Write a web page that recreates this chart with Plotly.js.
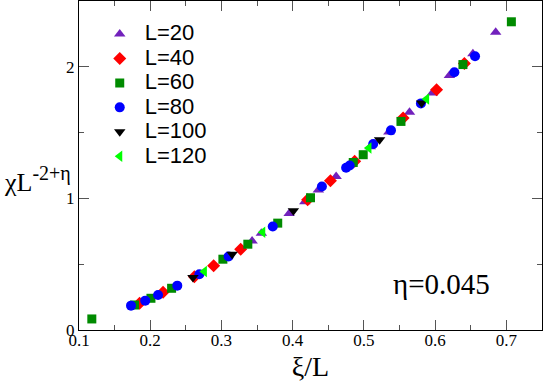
<!DOCTYPE html>
<html>
<head>
<meta charset="utf-8">
<script src="https://cdn.plot.ly/plotly-3.0.1.min.js"></script>
<style>html,body{margin:0;padding:0;background:#fff;}#chart{width:545px;height:382px;}</style>
</head>
<body>
<div id="chart"></div>
<script>
// ---- data ----
const seriesNames = ['L=20', 'L=40', 'L=60', 'L=80', 'L=100', 'L=120'];

const x20 = [0.343, 0.356, 0.395, 0.417, 0.436, 0.461, 0.509, 0.535, 0.564, 0.596, 0.620, 0.653, 0.685];
const y20 = [0.677, 0.735, 0.886, 0.975, 1.063, 1.167, 1.392, 1.505, 1.654, 1.801, 1.933, 2.100, 2.263];

const x40 = [0.185, 0.218, 0.262, 0.289, 0.327, 0.421, 0.453, 0.487, 0.555, 0.602, 0.641];
const y40 = [0.203, 0.287, 0.405, 0.489, 0.614, 0.990, 1.134, 1.283, 1.611, 1.826, 2.025];

const x60 = [0.118, 0.178, 0.201, 0.230, 0.302, 0.337, 0.379, 0.425, 0.485, 0.499, 0.552, 0.639, 0.707];
const y60 = [0.084, 0.190, 0.241, 0.317, 0.538, 0.652, 0.812, 1.005, 1.273, 1.332, 1.585, 2.017, 2.342];

const x80 = [0.173, 0.193, 0.211, 0.238, 0.269, 0.310, 0.372, 0.441, 0.475, 0.480, 0.513, 0.538, 0.580, 0.627, 0.656];
const y80 = [0.185, 0.223, 0.266, 0.337, 0.424, 0.558, 0.786, 1.091, 1.233, 1.250, 1.413, 1.517, 1.722, 1.958, 2.080];

const x100 = [0.260, 0.315, 0.401, 0.522, 0.581];
const y100 = [0.398, 0.576, 0.906, 1.446, 1.725];

const x120 = [0.276, 0.358, 0.507, 0.588];
const y120 = [0.444, 0.743, 1.383, 1.755];

const xTickVals = [0.1, 0.2, 0.3, 0.4, 0.5, 0.6, 0.7];
const xTickText = ['0.1', '0.2', '0.3', '0.4', '0.5', '0.6', '0.7'];
const yTickVals = [0, 1, 2];
const yTickText = ['0', '1', '2'];

// ---- styles ----
const xs = [x20, x40, x60, x80, x100, x120];
const ys = [y20, y40, y60, y80, y100, y120];
const colors = ['#7221bc', '#ff0000', '#008b00', '#0000ff', '#000000', '#00ff00'];
const symbols = ['triangle-up', 'diamond', 'square', 'circle', 'triangle-down', 'triangle-left'];
const sizes = [10, 10, 9, 10, 10, 10];

const traces = seriesNames.map((n, i) => ({
  type: 'scatter',
  mode: 'markers',
  name: '<span style="font-size:22px">' + n + '</span>',
  x: xs[i],
  y: ys[i],
  marker: {color: colors[i], symbol: symbols[i], size: sizes[i], line: {width: 0}}
}));

const serif = 'Liberation Serif';
const sans = 'Liberation Sans';

const axisCommon = {
  showline: true, linecolor: '#000', linewidth: 1, mirror: 'ticks',
  ticks: 'inside', ticklen: 10, tickwidth: 1, tickcolor: '#555',
  showgrid: false, zeroline: false,
  tickfont: {family: serif, size: 17, color: '#000'},
  tickmode: 'array'
};

const layout = {
  width: 545, height: 382,
  margin: {l: 79, r: 3, t: 1, b: 52},
  paper_bgcolor: '#fff', plot_bgcolor: '#fff',
  font: {family: serif, color: '#000'},
  showlegend: true,
  legend: {
    x: 0.034, xanchor: 'left', y: 0.952, yanchor: 'top',
    font: {family: sans, size: 16.5, color: '#000'},
    bgcolor: 'rgba(0,0,0,0)', borderwidth: 0, itemsizing: 'trace', itemwidth: 40
  },
  xaxis: Object.assign({}, axisCommon, {
    range: [0.1, 0.75], tickvals: xTickVals, ticktext: xTickText,
    minor: {dtick: 0.05, ticks: 'inside', ticklen: 5, tickcolor: '#555', tickwidth: 1, showgrid: false},
    ticklabelstandoff: -5,
    title: {text: 'ξ/L', font: {family: serif, size: 28, color: '#000'}, standoff: 6}
  }),
  yaxis: Object.assign({}, axisCommon, {
    range: [0, 2.5], tickvals: yTickVals, ticktext: yTickText,
    minor: {dtick: 0.5, ticks: 'inside', ticklen: 5, tickcolor: '#555', tickwidth: 1, showgrid: false},
    ticklabelstandoff: 0
  }),
  annotations: [
    {text: 'χL<sup><span style="font-size:20px">-2+η</span></sup>', xref: 'paper', yref: 'paper', x: -0.167, y: 0.457,
     xanchor: 'left', yanchor: 'middle', showarrow: false,
     font: {family: serif, size: 26, color: '#000'}},
    {text: 'η=0.045', xref: 'paper', yref: 'paper', x: 0.674, y: 0.14,
     xanchor: 'left', yanchor: 'middle', showarrow: false,
     font: {family: serif, size: 29, color: '#000'}}
  ]
};

Plotly.newPlot('chart', traces, layout, {displayModeBar: false, staticPlot: true});
</script>
</body>
</html>
